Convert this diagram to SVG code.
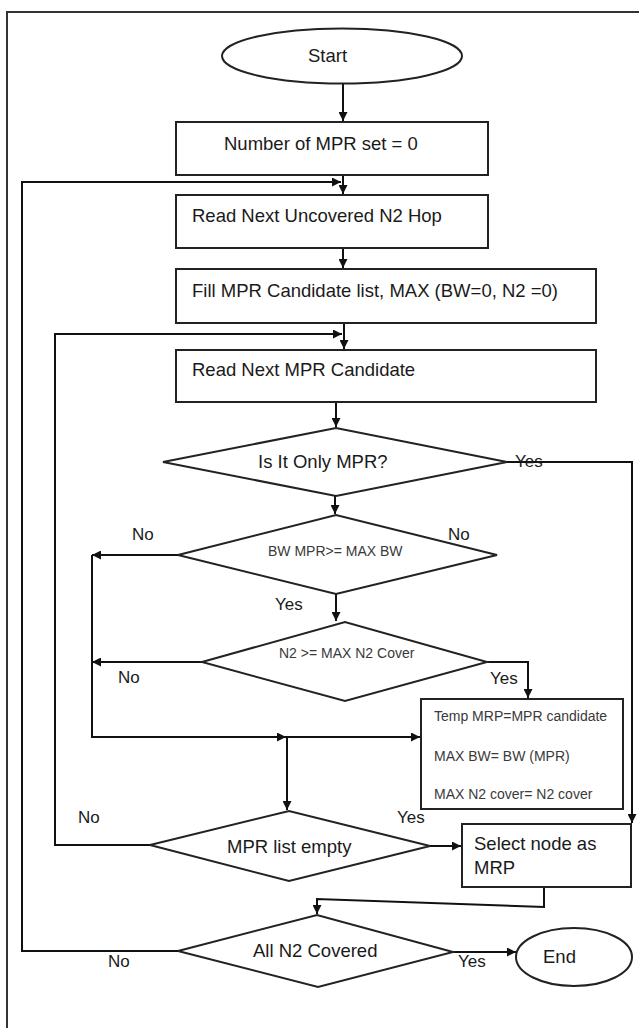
<svg xmlns="http://www.w3.org/2000/svg" width="639" height="1028" viewBox="0 0 639 1028">
<defs>
<marker id="arr" viewBox="0 0 10 10" refX="10" refY="5" markerWidth="9" markerHeight="9" markerUnits="userSpaceOnUse" orient="auto">
<path d="M0,0 L10,5 L0,10 z" fill="#111"/>
</marker>
<style>
.sh{fill:#fff;stroke:#222;stroke-width:2}
.t{font-family:"Liberation Sans",Arial,sans-serif;font-size:18.5px;fill:#1a1a1a}
.s{font-family:"Liberation Sans",Arial,sans-serif;font-size:14px;fill:#3a3a3a}
.l{font-family:"Liberation Sans",Arial,sans-serif;font-size:17px;fill:#1a1a1a}
.c{fill:none;stroke:#111;stroke-width:2}
.ca{fill:none;stroke:#111;stroke-width:2;marker-end:url(#arr)}
</style>
</defs>
<rect x="7" y="12" width="640" height="1030" fill="#fff" stroke="#333" stroke-width="2"/>
<g id="connectors">
<path class="ca" d="M343,83 L343,121"/>
<path class="ca" d="M343,175 L343,194"/>
<path class="ca" d="M178,951 L22,951 L22,182 L341,182"/>
<path class="ca" d="M343,248 L343,268"/>
<path class="ca" d="M344,323 L344,349"/>
<path class="ca" d="M150,845 L55,845 L55,334 L342,334"/>
<path class="ca" d="M336,402 L336,427"/>
<path class="ca" d="M507,462 L632,462 L632,823"/>
<path class="ca" d="M335,496 L335,514"/>
<path class="ca" d="M178,555 L92,555"/>
<path class="ca" d="M92,555 L92,737 L286,737"/>
<path class="ca" d="M286,737 L420,737"/>
<path class="ca" d="M287,737 L287,810"/>
<path class="ca" d="M336,594 L336,621"/>
<path class="ca" d="M202,662 L92,662"/>
<path class="ca" d="M487,662 L528,662 L528,698"/>
<path class="ca" d="M430,846 L461,846"/>
<path class="ca" d="M544,887 L544,907 L317,899 L317,914"/>
<path class="ca" d="M453,952 L516,952"/>
</g>
<g id="start">
<ellipse class="sh" cx="342" cy="56" rx="120" ry="27.5"/>
<text class="t" x="308" y="62">Start</text>
</g>
<g id="init">
<rect class="sh" x="176" y="122" width="312" height="53"/>
<text class="t" x="224" y="150">Number of MPR set = 0</text>
</g>
<g id="readN2">
<rect class="sh" x="176" y="195" width="312" height="53"/>
<text class="t" x="192" y="222">Read Next Uncovered N2 Hop</text>
</g>
<g id="fill">
<rect class="sh" x="176" y="269" width="420" height="54"/>
<text class="t" x="192" y="297">Fill MPR Candidate list, MAX (BW=0, N2 =0)</text>
</g>
<g id="readCand">
<rect class="sh" x="176" y="350" width="420" height="52"/>
<text class="t" x="192" y="376">Read Next MPR Candidate</text>
</g>
<g id="onlyMPR">
<polygon class="sh" points="163,462 336,428 507,462 336,496"/>
<text class="t" x="258" y="468">Is It Only MPR?</text>
<text class="l" x="515" y="467">Yes</text>
</g>
<g id="bwCheck">
<polygon class="sh" points="178,555 336,515 497,555 336,594"/>
<text class="s" x="268" y="556" font-size="15">BW MPR&gt;= MAX BW</text>
<text class="l" x="132" y="540">No</text>
<text class="l" x="448" y="540">No</text>
<text class="l" x="275" y="610">Yes</text>
</g>
<g id="n2Check">
<polygon class="sh" points="202,662 345,622 487,662 345,701"/>
<text class="s" x="279" y="658" font-size="13.7">N2 &gt;= MAX N2 Cover</text>
<text class="l" x="118" y="683">No</text>
<text class="l" x="490" y="684">Yes</text>
</g>
<g id="temp">
<rect class="sh" x="421" y="699" width="202" height="110"/>
<text class="s" x="434" y="721" font-size="13.5">Temp MRP=MPR candidate</text>
<text class="s" x="434" y="761" font-size="13.5">MAX BW= BW (MPR)</text>
<text class="s" x="434" y="799" font-size="13.5">MAX N2 cover= N2 cover</text>
</g>
<g id="listEmpty">
<polygon class="sh" points="150,845 289,811 430,846 289,881"/>
<text class="t" x="227" y="853">MPR list empty</text>
<text class="l" x="78" y="823">No</text>
<text class="l" x="397" y="823">Yes</text>
</g>
<g id="select">
<rect class="sh" x="462" y="824" width="169" height="63"/>
<text class="t" x="474" y="850">Select node as</text>
<text class="t" x="474" y="874">MRP</text>
</g>
<g id="allCovered">
<polygon class="sh" points="178,951 317,915 453,952 318,987"/>
<text class="t" x="253" y="957">All N2 Covered</text>
<text class="l" x="108" y="967">No</text>
<text class="l" x="458" y="967">Yes</text>
</g>
<g id="end">
<ellipse class="sh" cx="574" cy="957" rx="58" ry="29"/>
<text class="t" x="543" y="963">End</text>
</g>
</svg>
